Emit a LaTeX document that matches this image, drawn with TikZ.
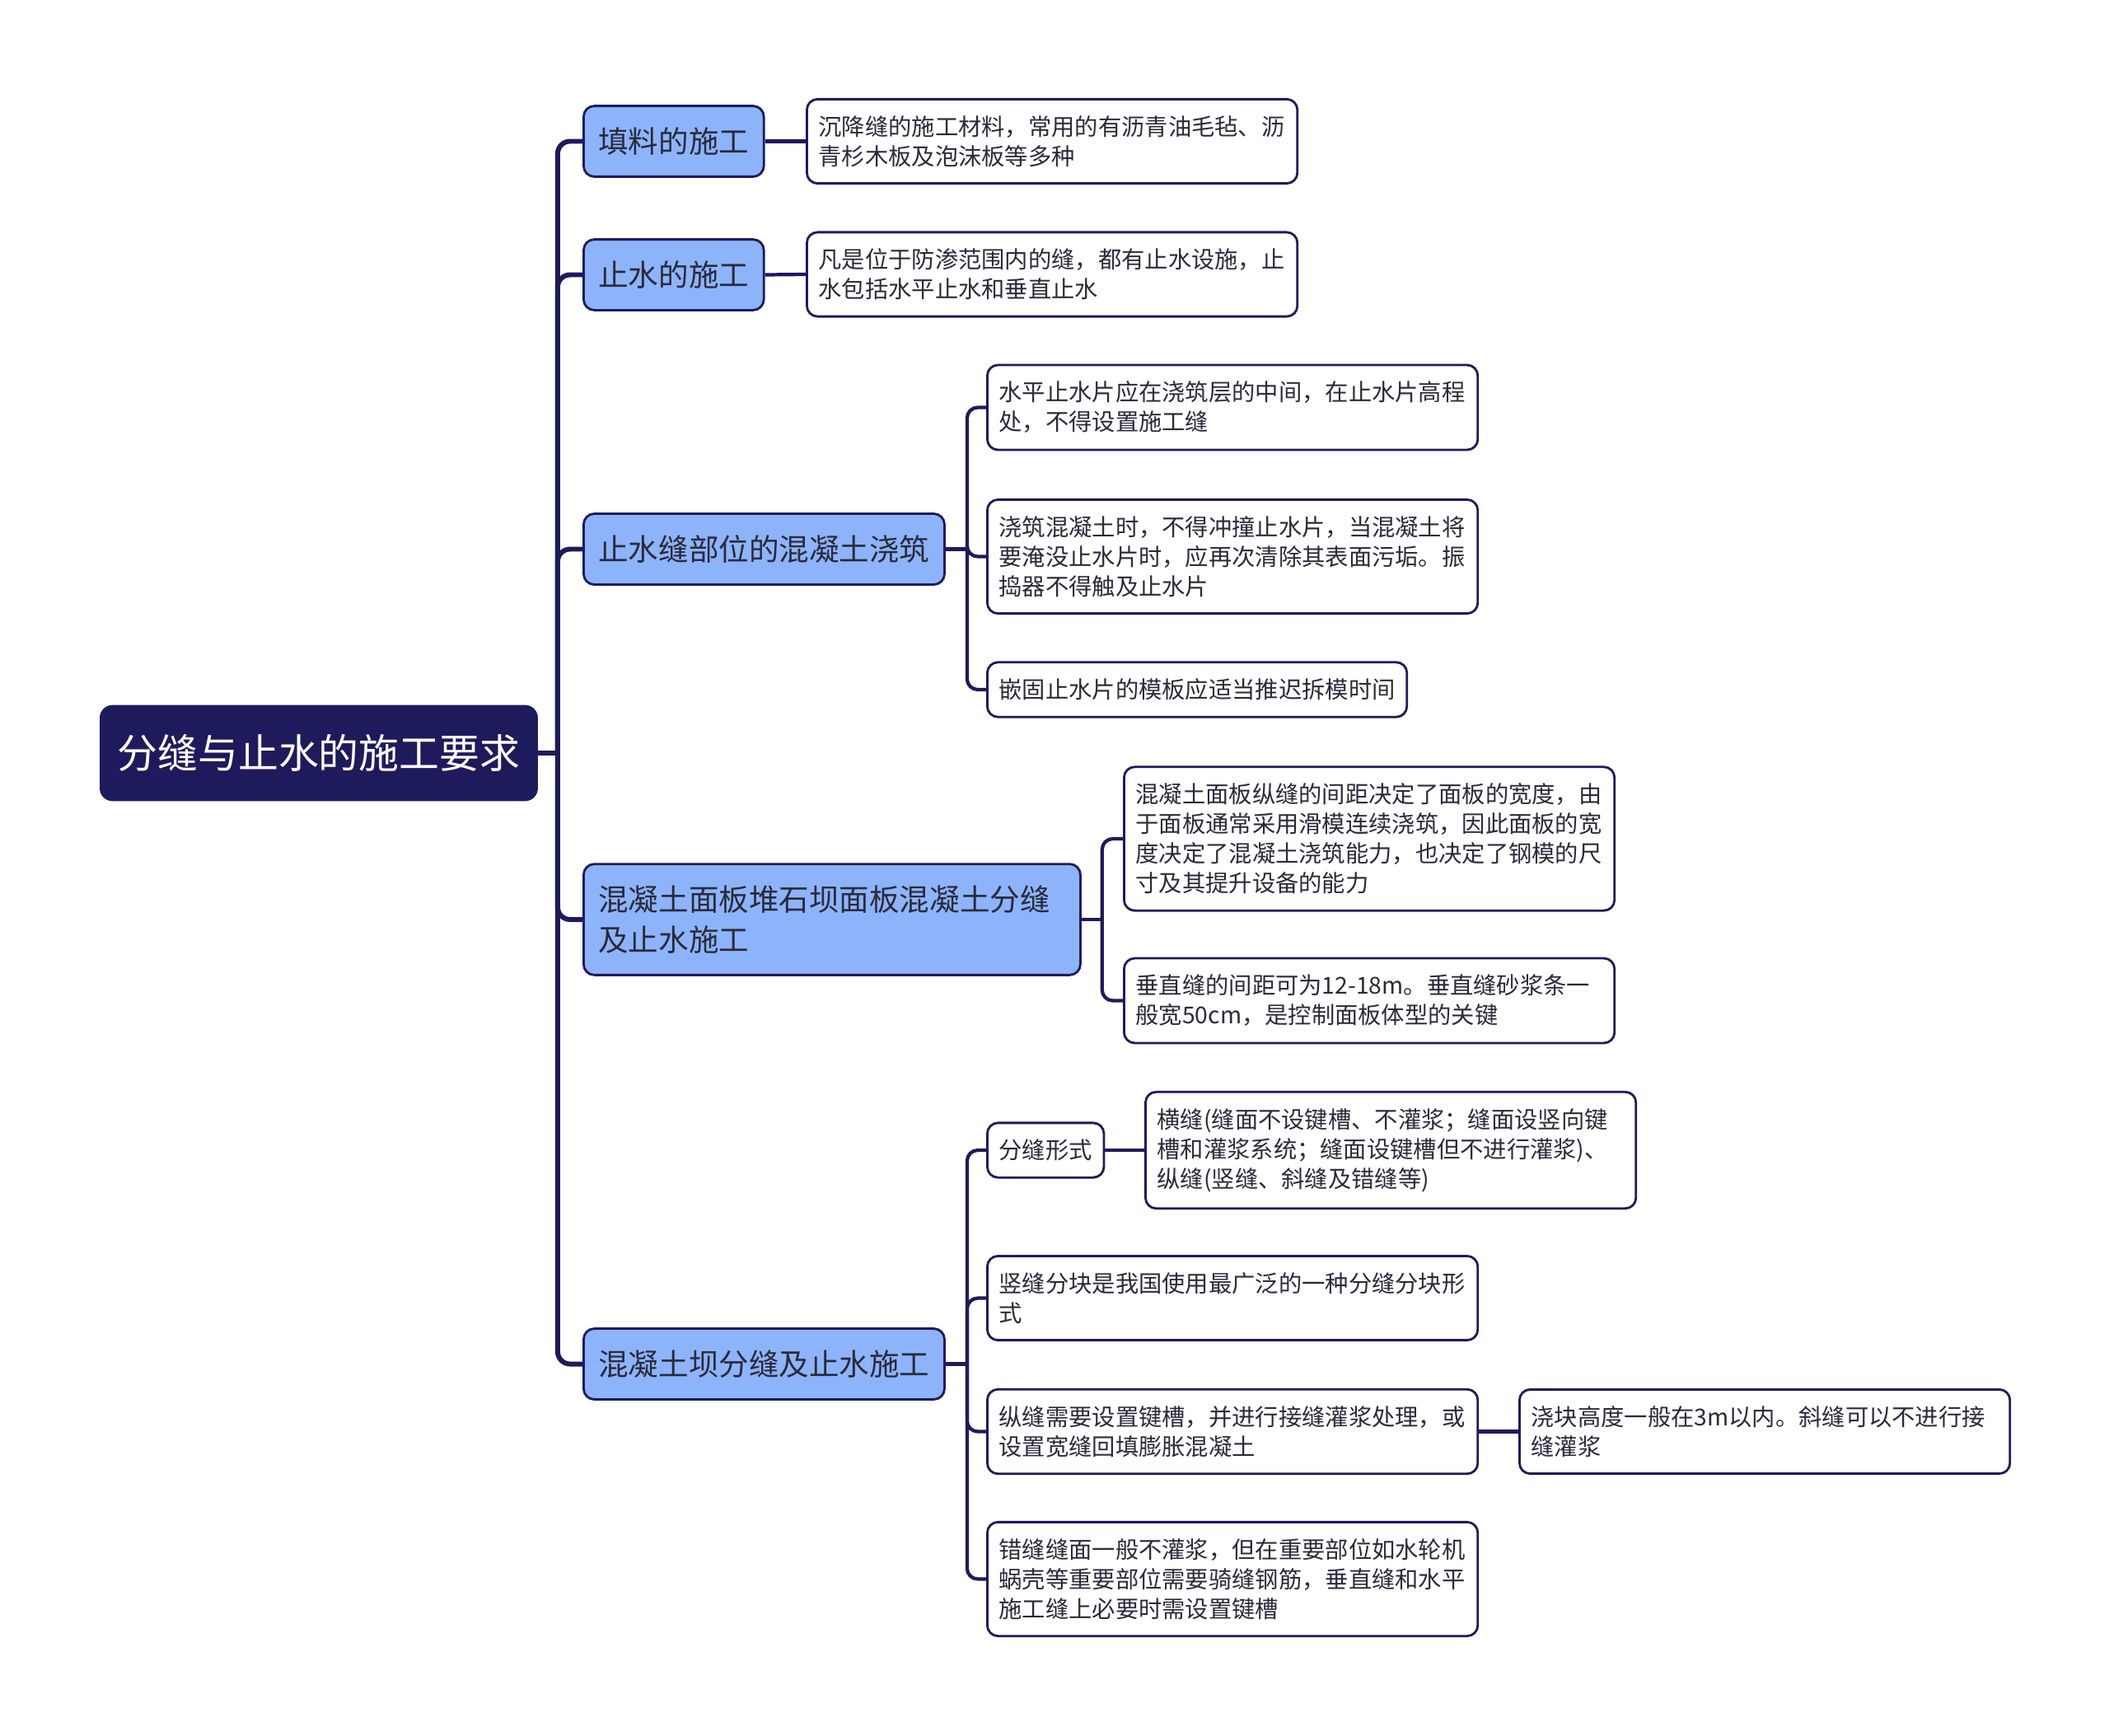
\documentclass[tikz,border=0pt]{standalone}
\usepackage{fontspec}
\setmainfont{Noto Sans CJK SC}
\usepackage{tikz}

\definecolor{navy}{HTML}{1E1B5C}
\definecolor{topicblue}{HTML}{8DB4FA}
\definecolor{inktext}{HTML}{2A2A3A}

\begin{document}
\begin{tikzpicture}[
  rootbox/.style={draw=navy, fill=navy, text=white, rounded corners=0.15cm, anchor=west,
    inner xsep=0.21cm, inner ysep=0.35cm, font=\fontsize{13.9}{16}\selectfont},
  topic/.style={draw=navy, line width=0.8pt, fill=topicblue, text=inktext, rounded corners=0.13cm,
    anchor=west, align=left, inner xsep=0.18cm, inner ysep=0.26cm, font=\fontsize{10.4}{13.9}\selectfont},
  leaf/.style={draw=navy, line width=0.8pt, fill=white, text=inktext, rounded corners=0.13cm,
    anchor=west, align=left, inner xsep=0.142cm, inner ysep=0.2cm, font=\fontsize{8.05}{10.24}\selectfont},
  wideleaf/.style={leaf, text width=5.67cm},
  trunk/.style={draw=navy, line width=1.7pt, rounded corners=0.15cm},
  link/.style={draw=navy, line width=1.2pt, rounded corners=0.13cm}
]
  \useasboundingbox (0,0) rectangle (25.6,-21.07);

  % root and main topics
  \node[rootbox] (r) at (1.21,-9.14) {分缝与止水的施工要求};
  \node[topic] (f1) at (7.07,-1.715) {填料的施工};
  \node[topic] (f2) at (7.07,-3.335) {止水的施工};
  \node[topic] (f3) at (7.07,-6.665) {止水缝部位的混凝土浇筑};
  \node[topic, text width=5.67cm] (f4) at (7.07,-11.16) {混凝土面板堆石坝面板混凝土分缝\\及止水施工};
  \node[topic] (f5) at (7.07,-16.555) {混凝土坝分缝及止水施工};

  % details
  \node[wideleaf] (a1) at (9.78,-1.715) {沉降缝的施工材料，常用的有沥青油毛毡、沥\\青杉木板及泡沫板等多种};
  \node[wideleaf] (a2) at (9.78,-3.33) {凡是位于防渗范围内的缝，都有止水设施，止\\水包括水平止水和垂直止水};
  \node[wideleaf] (b1) at (11.97,-4.945) {水平止水片应在浇筑层的中间，在止水片高程\\处，不得设置施工缝};
  \node[wideleaf] (b2) at (11.97,-6.755) {浇筑混凝土时，不得冲撞止水片，当混凝土将\\要淹没止水片时，应再次清除其表面污垢。振\\捣器不得触及止水片};
  \node[leaf] (b3) at (11.97,-8.37) {嵌固止水片的模板应适当推迟拆模时间};
  \node[wideleaf] (c1) at (13.63,-10.18) {混凝土面板纵缝的间距决定了面板的宽度，由\\于面板通常采用滑模连续浇筑，因此面板的宽\\度决定了混凝土浇筑能力，也决定了钢模的尺\\寸及其提升设备的能力};
  \node[wideleaf] (c2) at (13.63,-12.145) {垂直缝的间距可为\mbox{12-18m}。垂直缝砂浆条一\\般宽50cm，是控制面板体型的关键};
  \node[leaf] (d1) at (11.97,-13.96) {分缝形式};
  \node[wideleaf] (d1a) at (13.89,-13.96) {横缝(缝面不设键槽、不灌浆；缝面设竖向键\\槽和灌浆系统；缝面设键槽但不进行灌浆)、\\纵缝(竖缝、斜缝及错缝等)};
  \node[wideleaf] (d2) at (11.97,-15.755) {竖缝分块是我国使用最广泛的一种分缝分块形\\式};
  \node[wideleaf] (d3) at (11.97,-17.375) {纵缝需要设置键槽，并进行接缝灌浆处理，或\\设置宽缝回填膨胀混凝土};
  \node[wideleaf] (d3a) at (18.43,-17.375) {浇块高度一般在3m以内。斜缝可以不进行接\\缝灌浆};
  \node[wideleaf] (d4) at (11.97,-19.165) {错缝缝面一般不灌浆，但在重要部位如水轮机\\蜗壳等重要部位需要骑缝钢筋，垂直缝和水平\\施工缝上必要时需设置键槽};

  % connectors
  \draw[trunk] (r.east) -- ++(0.24,0) coordinate (j0);
  \foreach \t in {f1,f2,f3,f4,f5}
    \draw[trunk] (j0) |- (\t.west);
  \draw[link] (f1.east) -- (a1.west);
  \draw[link] (f2.east) -- (a2.west);
  \draw[link] (f3.east) -- ++(0.26,0) coordinate (j3);
  \foreach \t in {b1,b2,b3}
    \draw[link] (j3) |- (\t.west);
  \draw[link] (f4.east) -- ++(0.25,0) coordinate (j4);
  \foreach \t in {c1,c2}
    \draw[link] (j4) |- (\t.west);
  \draw[link] (f5.east) -- ++(0.26,0) coordinate (j5);
  \foreach \t in {d1,d2,d3,d4}
    \draw[link] (j5) |- (\t.west);
  \draw[link] (d1.east) -- (d1a.west);
  \draw[link] (d3.east) -- (d3a.west);
\end{tikzpicture}
\end{document}
